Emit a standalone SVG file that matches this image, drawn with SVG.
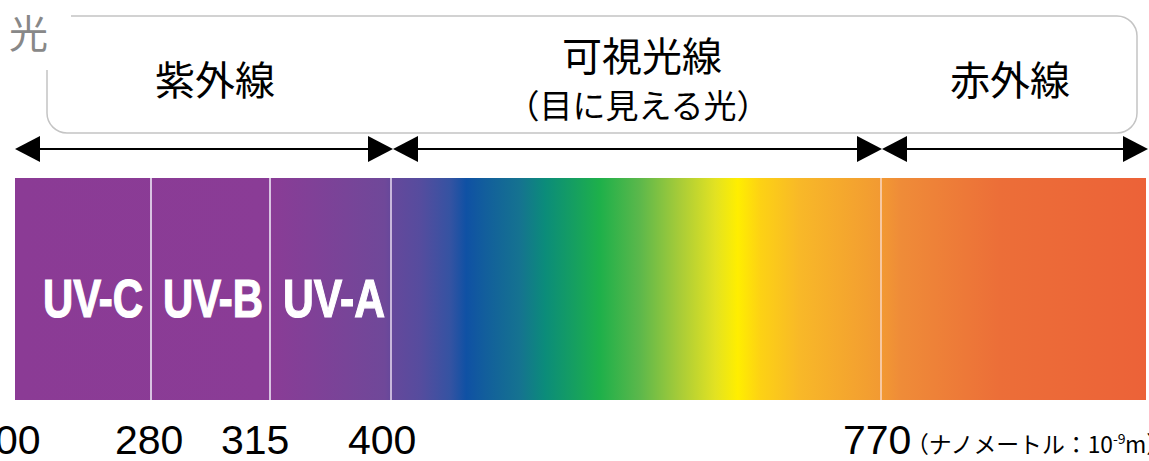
<svg xmlns="http://www.w3.org/2000/svg" width="1149" height="461" viewBox="0 0 1149 461">
<style>
.jp{font-family:"Noto Sans CJK JP","Noto Sans",sans-serif;fill:#000}
.big{font-size:40px}
.sub{font-size:33px}
.uv{font-family:"Liberation Sans",Arial,sans-serif;font-weight:bold;font-size:54px;fill:#fff;stroke:#fff;stroke-width:1.2}
.num{font-family:"Liberation Sans",Arial,sans-serif;font-size:41px;fill:#000}
.unit{font-family:"Noto Sans CJK JP","Liberation Sans",sans-serif;font-size:23px;fill:#000}
.arrow{stroke:#000;stroke-width:2;fill:none;marker-start:url(#head);marker-end:url(#head)}
.div{stroke-width:2}
</style>
<defs>
<marker id="head" viewBox="0 -13 25 26" refX="0" refY="0" markerWidth="25" markerHeight="26" markerUnits="userSpaceOnUse" orient="auto-start-reverse">
<path d="M0,-13 L25,0 L0,13 Z" fill="#000"/>
</marker>
<linearGradient id="spec" gradientUnits="userSpaceOnUse" x1="15" y1="0" x2="1146" y2="0">
<stop offset="0" stop-color="#8B3B95"/>
<stop offset="0.2255" stop-color="#8A3C96"/>
<stop offset="0.327" stop-color="#6F4899"/>
<stop offset="0.3325" stop-color="#66489B"/>
<stop offset="0.358" stop-color="#564C9E"/>
<stop offset="0.3846" stop-color="#3553A2"/>
<stop offset="0.399" stop-color="#0F51A4"/>
<stop offset="0.4156" stop-color="#125E9C"/>
<stop offset="0.4465" stop-color="#157390"/>
<stop offset="0.4686" stop-color="#0B8C7A"/>
<stop offset="0.5172" stop-color="#1EB04A"/>
<stop offset="0.5526" stop-color="#5CB84B"/>
<stop offset="0.588" stop-color="#A8CC38"/>
<stop offset="0.619" stop-color="#E2E222"/>
<stop offset="0.639" stop-color="#FFEE00"/>
<stop offset="0.6587" stop-color="#FDD214"/>
<stop offset="0.694" stop-color="#F8B828"/>
<stop offset="0.7648" stop-color="#F29A32"/>
<stop offset="0.7825" stop-color="#EF8C38"/>
<stop offset="0.871" stop-color="#EC6E38"/>
<stop offset="1" stop-color="#EC6238"/>
</linearGradient>
</defs>
<rect width="1149" height="461" fill="#fff"/>

<g id="band-box">
<rect x="47" y="16" width="1090" height="117" rx="20" ry="20" fill="#fff" stroke="#C4C4C4" stroke-width="1.5"/>
</g>

<g id="light-label">
<rect x="0" y="0" width="71" height="70" fill="#fff"/>
<text x="9" y="48" class="jp" style="font-size:39px;fill:#888888">光</text>
</g>

<g id="uv-label"><text x="215" y="95" class="jp big" text-anchor="middle">紫外線</text></g>
<g id="visible-label">
<text x="642" y="71" class="jp big" text-anchor="middle">可視光線</text>
<text x="638" y="118" class="jp sub" text-anchor="middle">（目に見える光）</text>
</g>
<g id="ir-label"><text x="1010" y="95" class="jp big" text-anchor="middle">赤外線</text></g>

<g id="connectors">
<line class="arrow" x1="40" y1="149" x2="368" y2="149"/>
<line class="arrow" x1="418" y1="149" x2="857" y2="149"/>
<line class="arrow" x1="907" y1="149" x2="1123" y2="149"/>
</g>

<g id="spectrum">
<rect x="15" y="178" width="1131" height="222" fill="url(#spec)"/>
<line class="div" x1="151" y1="178" x2="151" y2="400" stroke="#D9C4E2"/>
<line class="div" x1="270" y1="178" x2="270" y2="400" stroke="#D9C4E2"/>
<line class="div" x1="391" y1="178" x2="391" y2="400" stroke="#C9B8DC"/>
<line class="div" x1="881" y1="178" x2="881" y2="400" stroke="#F8C8A0"/>
</g>

<g id="uv-c"><text x="43" y="317" class="uv" textLength="100" lengthAdjust="spacingAndGlyphs">UV-C</text></g>
<g id="uv-b"><text x="163" y="317" class="uv" textLength="100" lengthAdjust="spacingAndGlyphs">UV-B</text></g>
<g id="uv-a"><text x="283" y="317" class="uv" textLength="102" lengthAdjust="spacingAndGlyphs">UV-A</text></g>

<g id="scale">
<text x="-5" y="454" class="num">00</text>
<text x="115" y="454" class="num">280</text>
<text x="221" y="454" class="num">315</text>
<text x="348" y="454" class="num">400</text>
<text x="843" y="454" class="num">770</text>
<text x="906" y="453" class="unit" textLength="207" lengthAdjust="spacingAndGlyphs">（ナノメートル：10</text>
<text x="1113" y="444" class="unit" style="font-size:14px">-9</text>
<text x="1125" y="453" class="unit">m）</text>
</g>
</svg>
